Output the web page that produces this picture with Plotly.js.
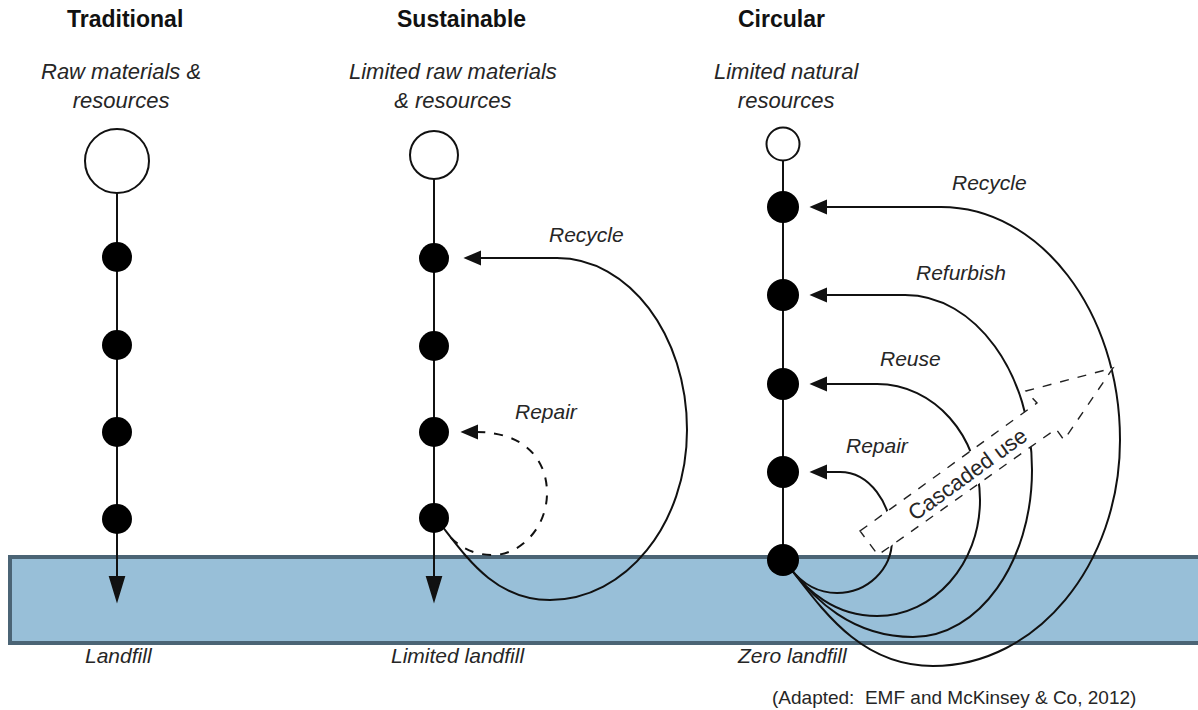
<!DOCTYPE html>
<html>
<head>
<meta charset="utf-8">
<script src="https://cdn.plot.ly/plotly-3.0.1.min.js"></script>
<style>html,body{margin:0;padding:0;background:#fff;}#chart{width:1198px;height:710px;}</style>
</head>
<body>
<div id="chart"></div>
<script>
// ---------- diagram data ----------
const columnTitles = ["Traditional", "Sustainable", "Circular"];
const columnX = [117, 434, 783];
const sourceLabels = ["Raw materials &<br>resources", "Limited raw materials<br>& resources", "Limited natural<br>resources"];
const sourceY = [161, 155, 144];
const sourceDiameter = [64, 48, 33];
const nodeY = [[257, 345, 432, 519], [258, 346, 432, 518], [207, 295, 384, 472, 560]];
const nodeDiameter = [30, 30, 32];
const sinkLabels = ["Landfill", "Limited landfill", "Zero landfill"];
const flowEndY = [600, 600, 560];

// Sustainable loops
const susLoopLabels = ["Recycle", "Repair"];
const susLoopTargetY = [258, 432];
const susLoopLabelXY = [[586, 234], [546, 411]];

// Circular loops (all return from the last node)
const circLoopLabels = ["Recycle", "Refurbish", "Reuse", "Repair"];
const circLoopTargetY = [207, 295, 384, 472];
const circLoopBendX = [941, 905, 877, 840];
const circLoopReachX = [1120, 1032, 980, 892];
const circLoopReachY = [440, 470, 500, 540];
const circLoopBottomX = [933, 913, 877, 837];
const circLoopBottomY = [666, 637, 616, 593];
const circLoopLabelXY = [[989, 182], [961, 272], [910, 358], [877, 445]];

const cascadeLabel = "Cascaded use";
const cascadeOutline = [[860, 531], [1037, 403], [1026, 391], [1113, 368], [1064, 440], [1056, 429], [878, 555]];
const landfillBand = {x0: 10, x1: 1215, y0: 557, y1: 643};
const sourceNote = "(Adapted:  EMF and McKinsey & Co, 2012)";

// ---------- build ----------
const INK = "#111";
const TXT = "#262626";
const FONT = "Liberation Sans, Arial, sans-serif";
const K = 0.5523;
const shapes = [];
const annotations = [];

// landfill band
shapes.push({type: "rect", xref: "x", yref: "y", layer: "below",
  x0: landfillBand.x0, x1: landfillBand.x1, y0: landfillBand.y0, y1: landfillBand.y1,
  fillcolor: "#98bfd8", line: {color: "#4b6475", width: 4}});

function tri(p) { return "M" + p.map(q => q[0] + "," + q[1]).join(" L") + " Z"; }
function addPath(path, dash, fill) {
  shapes.push({type: "path", xref: "x", yref: "y", layer: "below", path: path,
    fillcolor: fill || "rgba(0,0,0,0)", line: {color: INK, width: 2, dash: dash || "solid"}});
}
function leftHead(tipX, y) { addPath(tri([[tipX, y], [tipX + 14, y - 6], [tipX + 14, y + 6]]), "solid", INK); }

// vertical flows
columnX.forEach((x, i) => {
  const top = sourceY[i] + sourceDiameter[i] / 2;
  const end = flowEndY[i];
  if (i < 2) {
    addPath("M" + x + "," + top + " L" + x + "," + (end - 20));
    addPath(tri([[x - 7, end - 23], [x + 7, end - 23], [x, end]]), "solid", INK);
  } else {
    addPath("M" + x + "," + top + " L" + x + "," + end);
  }
});

// sustainable recycle loop
(function () {
  const x = columnX[1], tip = x + 32, ty = susLoopTargetY[0];
  const bend = 557, rx = 687, ry = 430, bx = 550, by = 600, dx = x + 8, dy = nodeY[1][3] + 8;
  const p = "M" + (tip + 12) + "," + ty + " L" + bend + "," + ty +
    " C" + (bend + K * (rx - bend)) + "," + ty + " " + rx + "," + (ry - K * (ry - ty)) + " " + rx + "," + ry +
    " C" + rx + "," + (ry + K * (by - ry)) + " " + (bx + K * (rx - bx)) + "," + by + " " + bx + "," + by +
    " C" + (bx - 0.5 * (bx - dx)) + "," + by + " " + (dx + 0.35 * (by - dy)) + "," + (dy + 0.45 * (by - dy)) + " " + dx + "," + dy;
  addPath(p);
  leftHead(tip, ty);
})();
// sustainable repair loop (dashed)
(function () {
  const x = columnX[1], tip = x + 29, ty = susLoopTargetY[1];
  const p = "M" + (tip + 13) + "," + ty + " C525," + ty + " 547,460 547,493 C547,528 520,555 493,555 C472,555 457,546 " + (x + 12) + ",532";
  addPath(p, "dash");
  leftHead(tip, ty);
})();

// circular loops
const cx = columnX[2], lastY = nodeY[2][nodeY[2].length - 1];
circLoopLabels.forEach((lab, i) => {
  const tip = cx + 29, ty = circLoopTargetY[i];
  const bend = circLoopBendX[i], rx = circLoopReachX[i], ry = circLoopReachY[i];
  const bx = circLoopBottomX[i], by = circLoopBottomY[i];
  const dx = cx + 7, dy = lastY + 8;
  const p = "M" + (tip + 12) + "," + ty + " L" + bend + "," + ty +
    " C" + (bend + K * (rx - bend)) + "," + ty + " " + rx + "," + (ry - K * (ry - ty)) + " " + rx + "," + ry +
    " C" + rx + "," + (ry + K * (by - ry)) + " " + (bx + K * (rx - bx)) + "," + by + " " + bx + "," + by +
    " C" + (bx - 0.5 * (bx - dx)) + "," + by + " " + (dx + 0.35 * (by - dy)) + "," + (dy + 0.45 * (by - dy)) + " " + dx + "," + dy;
  addPath(p);
  leftHead(tip, ty);
  annotations.push({x: circLoopLabelXY[i][0], y: circLoopLabelXY[i][1], text: lab, showarrow: false,
    xanchor: "center", yanchor: "middle", font: {family: FONT, size: 21, color: TXT, style: "italic"}});
});

// cascaded use arrow
shapes.push({type: "path", xref: "x", yref: "y", layer: "below", path: tri(cascadeOutline),
  fillcolor: "#ffffff", line: {color: "#222", width: 1.4, dash: "dash"}});
annotations.push({x: 967, y: 474, text: cascadeLabel, showarrow: false, textangle: -36,
  xanchor: "center", yanchor: "middle", font: {family: FONT, size: 22, color: TXT}});

// sustainable loop labels
susLoopLabels.forEach((lab, i) => {
  annotations.push({x: susLoopLabelXY[i][0], y: susLoopLabelXY[i][1], text: lab, showarrow: false,
    xanchor: "center", yanchor: "middle", font: {family: FONT, size: 21, color: TXT, style: "italic"}});
});

// titles, sources, sinks
const titleX = [125, 461, 781];
const subX = [121, 453, 786];
const sinkX = [119, 458, 792];
columnTitles.forEach((t, i) => {
  annotations.push({x: titleX[i], y: 19, text: "<b>" + t + "</b>", showarrow: false,
    xanchor: "center", yanchor: "middle", font: {family: FONT, size: 23, color: "#111"}});
  annotations.push({x: subX[i], y: 86, text: sourceLabels[i], showarrow: false,
    xanchor: "center", yanchor: "middle", font: {family: FONT, size: 22, color: TXT, style: "italic"}});
  annotations.push({x: sinkX[i], y: 655, text: sinkLabels[i], showarrow: false,
    xanchor: "center", yanchor: "middle", font: {family: FONT, size: 21, color: TXT, style: "italic"}});
});
annotations.push({x: 954, y: 697, text: sourceNote, showarrow: false,
  xanchor: "center", yanchor: "middle", font: {family: FONT, size: 19, color: TXT}});

// traces: source circles and process nodes
const traces = [];
columnX.forEach((x, i) => {
  traces.push({type: "scatter", mode: "markers", x: [x], y: [sourceY[i]], hoverinfo: "skip",
    marker: {size: sourceDiameter[i], color: "#ffffff", line: {color: INK, width: 2}}});
  traces.push({type: "scatter", mode: "markers", x: nodeY[i].map(() => x), y: nodeY[i], hoverinfo: "skip",
    marker: {size: nodeDiameter[i], color: "#000000", line: {width: 0}}});
});

const layout = {
  width: 1198, height: 710, margin: {l: 0, r: 0, t: 0, b: 0},
  paper_bgcolor: "#ffffff", plot_bgcolor: "#ffffff", showlegend: false,
  xaxis: {range: [0, 1198], visible: false, fixedrange: true},
  yaxis: {range: [710, 0], visible: false, fixedrange: true},
  shapes: shapes, annotations: annotations
};
Plotly.newPlot("chart", traces, layout, {staticPlot: true, displayModeBar: false});
</script>
</body>
</html>
